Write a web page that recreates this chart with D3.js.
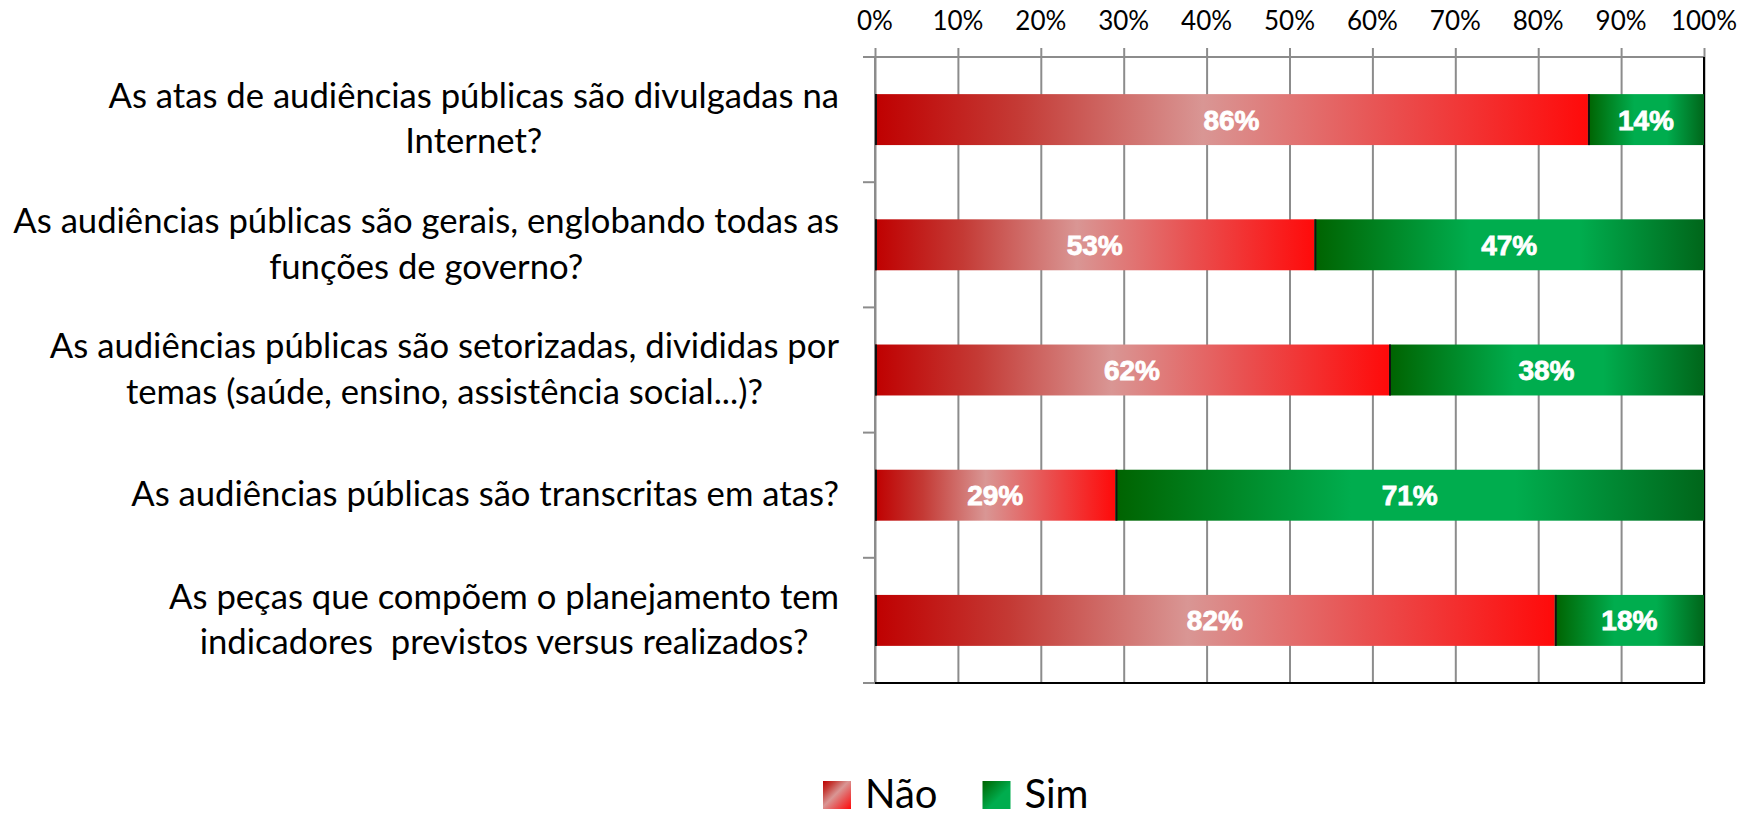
<!DOCTYPE html>
<head>
    <style>
        body { margin: 0; background: #fff; }
        text { font-family: Lato, "Open Sans", sans-serif; white-space: pre; }
    </style>
</head>
<body>
    <script src="https://d3js.org/d3.v7.min.js"></script>
    <script>
        const width = 1745;
        const height = 818;

        // data
        const questions = [
            ["As atas de audiências públicas são divulgadas na", "Internet?"],
            ["As audiências públicas são gerais, englobando todas as", "funções de governo?"],
            ["As audiências públicas são setorizadas, divididas por", "temas (saúde, ensino, assistência social...)?"],
            ["As audiências públicas são transcritas em atas?"],
            ["As peças que compõem o planejamento tem", "indicadores  previstos versus realizados?"]
        ];
        const nao = [86, 53, 62, 29, 82];
        const sim = [14, 47, 38, 71, 18];
        const seriesNames = ["Não", "Sim"];
        const ticks = [0, 10, 20, 30, 40, 50, 60, 70, 80, 90, 100];

        const plotL = 875, plotR = 1704, plotT = 57, plotB = 683;
        const labelRight = 839;

        const svg = d3.select("body").append("svg")
            .attr("width", width).attr("height", height);

        const defs = svg.append("defs");
        function grad(id, stops, x2, y2) {
            const g = defs.append("linearGradient").attr("id", id)
                .attr("x1", 0).attr("y1", 0).attr("x2", x2).attr("y2", y2);
            stops.forEach(s => g.append("stop").attr("offset", s[0]).attr("stop-color", s[1]));
        }
        const redStops = [[0, "#bf0000"], [0.2, "#c43a35"], [0.46, "#d99694"], [0.72, "#e95050"], [1, "#ff0a0a"]];
        const greenStops = [[0, "#006300"], [0.4, "#00ad4e"], [0.68, "#00ad4e"], [1, "#00661a"]];
        grad("red", redStops, 1, 0);
        grad("green", greenStops, 1, 0);
        grad("redSq", redStops, 1, 1);
        grad("greenSq", [[0, "#006300"], [0.6, "#00ad4e"], [1, "#00ad4e"]], 1, 1);

        const x = d3.scaleLinear().domain([0, 100]).range([plotL, plotR]);
        const y = d3.scaleBand().domain(d3.range(questions.length))
            .range([plotT, plotB]).paddingInner(0.593).paddingOuter(0.2965);

        // gridlines
        svg.append("g").attr("transform", `translate(0,${plotT})`)
            .call(d3.axisTop(x).tickValues(ticks).tickSize(9).tickFormat(""))
            .call(g => g.select(".domain").remove())
            .call(g => g.selectAll("line").attr("stroke", "#8c8c8c").attr("stroke-width", 2));
        svg.append("g").attr("transform", `translate(0,${plotT})`)
            .call(d3.axisBottom(x).tickValues(ticks).tickSize(plotB - plotT).tickFormat(""))
            .call(g => g.select(".domain").remove())
            .call(g => g.selectAll("line").attr("stroke", "#8c8c8c").attr("stroke-width", 2));

        // tick labels
        svg.append("g").selectAll("text").data(ticks).join("text")
            .attr("x", d => x(d)).attr("y", 30)
            .attr("text-anchor", "middle")
            .style("font-size", "26px").attr("fill", "#000")
            .text(d => d + "%");

        // axis lines
        svg.append("line").attr("x1", plotL - 12).attr("x2", plotR).attr("y1", plotT).attr("y2", plotT)
            .attr("stroke", "#8c8c8c").attr("stroke-width", 2);
        svg.append("line").attr("x1", plotL).attr("x2", plotL).attr("y1", plotT).attr("y2", plotB)
            .attr("stroke", "#8c8c8c").attr("stroke-width", 2);
        const seps = d3.range(questions.length).map(i => y(i) + y.bandwidth() + y.step() * y.paddingInner() / 2);
        svg.append("g").selectAll("line").data(seps).join("line")
            .attr("x1", plotL - 12).attr("x2", plotL).attr("y1", d => d).attr("y2", d => d)
            .attr("stroke", "#8c8c8c").attr("stroke-width", 2);
        svg.append("line").attr("x1", plotL).attr("x2", plotR + 1).attr("y1", plotB).attr("y2", plotB)
            .attr("stroke", "#000").attr("stroke-width", 2);
        svg.append("line").attr("x1", plotR).attr("x2", plotR).attr("y1", plotT).attr("y2", plotB)
            .attr("stroke", "#000").attr("stroke-width", 2);

        // bars
        const rows = questions.map((q, i) => [
            { i, x0: 0, v: nao[i], fill: "url(#red)" },
            { i, x0: nao[i], v: sim[i], fill: "url(#green)" }
        ]).flat();

        const bars = svg.append("g");
        bars.selectAll("rect").data(rows).join("rect")
            .attr("x", d => x(d.x0)).attr("width", d => x(d.x0 + d.v) - x(d.x0))
            .attr("y", d => y(d.i)).attr("height", y.bandwidth())
            .attr("fill", d => d.fill);
        bars.selectAll("line").data(rows).join("line")
            .attr("x1", d => x(d.x0) + 1).attr("x2", d => x(d.x0) + 1)
            .attr("y1", d => y(d.i)).attr("y2", d => y(d.i) + y.bandwidth())
            .attr("stroke", "#111").attr("stroke-width", 2);
        bars.selectAll("text").data(rows).join("text")
            .attr("x", d => x(d.x0 + d.v / 2))
            .attr("y", d => y(d.i) + y.bandwidth() / 2 + 10)
            .attr("text-anchor", "middle")
            .style("font-family", "'Liberation Sans', Arial, sans-serif")
            .style("font-size", "28px").style("font-weight", "bold")
            .attr("fill", "#fff").attr("stroke", "#fff").attr("stroke-width", 0.8)
            .text(d => d.v + "%");

        // category labels, centred block ending at labelRight
        const lab = svg.append("g").style("font-size", "34px").attr("fill", "#000");
        const groups = lab.selectAll("g").data(questions).join("g");
        groups.each(function (lines, i) {
            const g = d3.select(this);
            const lh = 45.5;
            const cy = y(i) + y.bandwidth() / 2;
            lines.forEach((t, k) => {
                g.append("text").attr("y", cy + (k - (lines.length - 1) / 2) * lh + 11).text(t);
            });
        });
        // fit the font to the longest line
        let maxW = 0;
        lab.selectAll("text").each(function () { maxW = Math.max(maxW, this.getComputedTextLength()); });
        const fs = 34 * 826 / maxW;
        lab.style("font-size", fs + "px");
        groups.each(function () {
            const g = d3.select(this);
            let w = 0;
            g.selectAll("text").each(function () { w = Math.max(w, this.getComputedTextLength()); });
            g.selectAll("text").attr("x", labelRight - w / 2).attr("text-anchor", "middle");
        });

        // legend
        const legend = svg.append("g").attr("transform", "translate(823,781)");
        let lx = 0;
        seriesNames.forEach((n, k) => {
            legend.append("rect").attr("x", lx).attr("y", 0).attr("width", 28).attr("height", 28)
                .attr("fill", k === 0 ? "url(#redSq)" : "url(#greenSq)");
            const t = legend.append("text").attr("x", lx + 42).attr("y", 27)
                .style("font-size", "40px").attr("fill", "#000").text(n);
            lx += 42 + t.node().getComputedTextLength() + 45;
        });
    </script>
</body>
</html>
